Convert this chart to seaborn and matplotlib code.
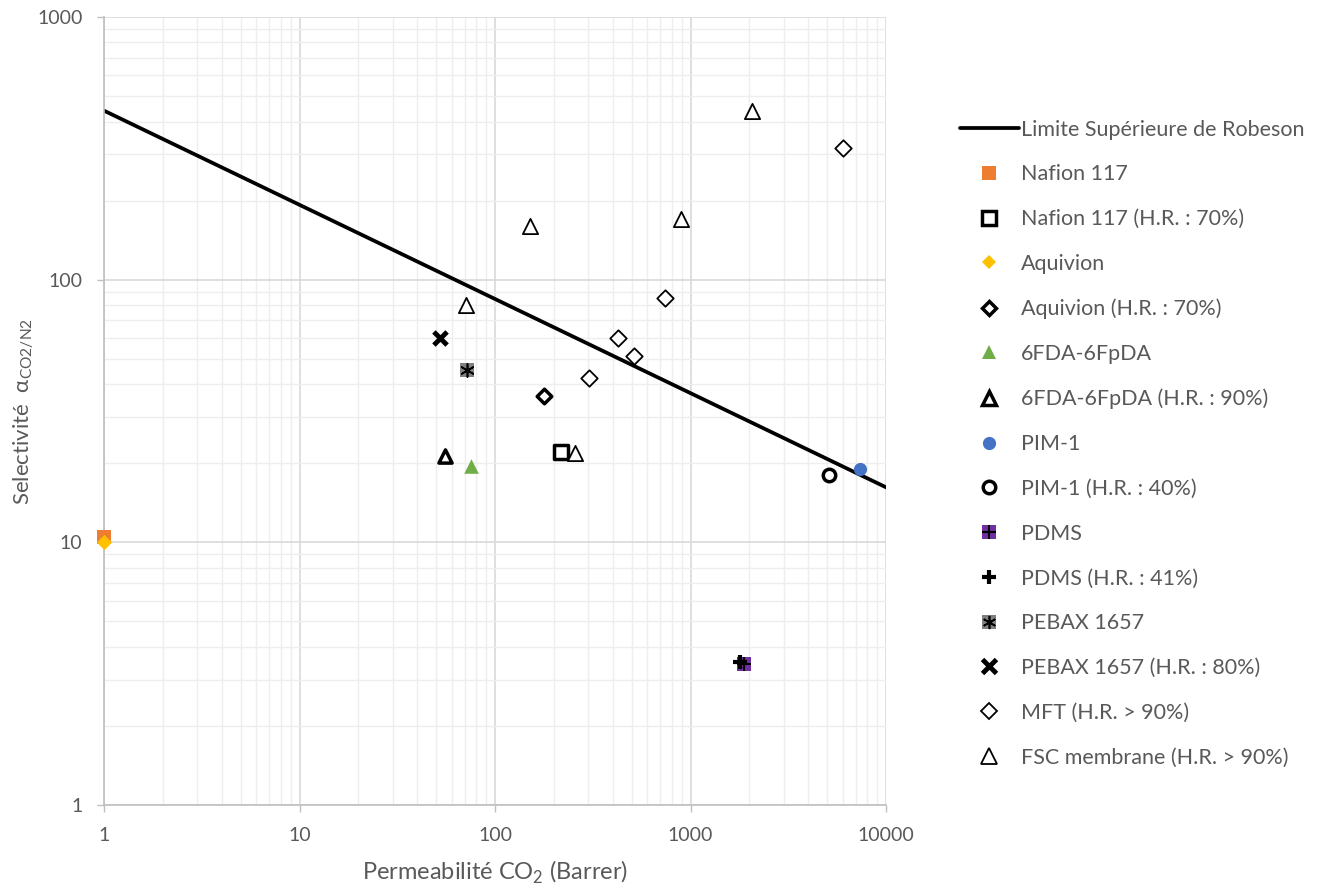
import matplotlib
matplotlib.use("Agg")
import matplotlib.pyplot as plt
from matplotlib.lines import Line2D
from matplotlib.ticker import LogLocator, FuncFormatter, NullFormatter
import seaborn as sns
import pandas as pd

# Data
robeson_x = [1, 10000]
robeson_y = [440, 16.2]

nafion_x, nafion_y = [1], [10.5]
nafion_hr_x, nafion_hr_y = [218], [22]
aquivion_x, aquivion_y = [1], [10.0]
aquivion_hr_x, aquivion_hr_y = [178], [36]
fda_x, fda_y = [75], [19.5]
fda_hr_x, fda_hr_y = [55.5], [21.3]
pim_x, pim_y = [7360], [19]
pim_hr_x, pim_hr_y = [5110], [18]
pdms_x, pdms_y = [1878], [3.44]
pdms_hr_x, pdms_hr_y = [1792], [3.5]
pebax_x, pebax_y = [72], [45.3]
pebax_hr_x, pebax_hr_y = [52.3], [60]
mft_x = [6030, 741, 426, 514, 303]
mft_y = [317, 85, 60, 51.2, 42.2]
fsc_x = [2064, 151, 894, 71, 257]
fsc_y = [440, 160, 170, 80, 21.9]

labels = ["Nafion 117", "Nafion 117 (H.R. : 70%)", "Aquivion", "Aquivion (H.R. : 70%)",
          "6FDA-6FpDA", "6FDA-6FpDA (H.R. : 90%)", "PIM-1", "PIM-1 (H.R. : 40%)",
          "PDMS", "PDMS (H.R. : 41%)", "PEBAX 1657", "PEBAX 1657 (H.R. : 80%)",
          "MFT (H.R. > 90%)", "FSC membrane (H.R. > 90%)"]

sns.set_theme(style="white")
plt.rcParams['font.family'] = ['Lato', 'DejaVu Sans']
TXT = "#595959"

fig = plt.figure(figsize=(13.28, 8.9), dpi=100)
ax = fig.add_axes([104/1328, 1-805/890, 782/1328, 788/890])
ax.set_xscale("log")
ax.set_yscale("log")
ax.set_xlim(1, 10000)
ax.set_ylim(1, 1000)

# grid
ax.xaxis.set_minor_locator(LogLocator(base=10, subs=range(2, 10)))
ax.yaxis.set_minor_locator(LogLocator(base=10, subs=range(2, 10)))
ax.xaxis.set_minor_formatter(NullFormatter())
ax.yaxis.set_minor_formatter(NullFormatter())
ax.grid(which="major", color="#d9d9d9", lw=1.2)
ax.grid(which="minor", color="#eeeeee", lw=1.0)
ax.set_axisbelow(True)

fmt = FuncFormatter(lambda v, _: f"{v:g}")
ax.xaxis.set_major_formatter(fmt)
ax.yaxis.set_major_formatter(fmt)
ax.tick_params(which="major", length=5, width=1, color="#bfbfbf", labelsize=14,
               labelcolor=TXT, direction="out", bottom=True, left=True, pad=10.5)
ax.tick_params(which="minor", length=0)
for s in ["top", "right"]:
    ax.spines[s].set_visible(False)
for s in ["left", "bottom"]:
    ax.spines[s].set_color("#bfbfbf")
    ax.spines[s].set_linewidth(1.2)

# Robeson line
sns.lineplot(x=robeson_x, y=robeson_y, ax=ax, color="black", lw=2.7)

def pts(x, y, **kw):
    sns.scatterplot(x=x, y=y, ax=ax, clip_on=False, zorder=3, legend=False, **kw)

pts(nafion_x, nafion_y, marker="s", s=90, color="#ed7d31", edgecolor="#ed7d31", linewidth=0)
pts(aquivion_x, aquivion_y, marker="D", s=60, color="#ffc000", edgecolor="#ffc000", linewidth=0)
pts(nafion_hr_x, nafion_hr_y, marker="s", s=90, facecolor="white", edgecolor="black", linewidth=2.5)
pts(aquivion_hr_x, aquivion_hr_y, marker="D", s=55, facecolor="white", edgecolor="black", linewidth=2.5)
pts(fda_x, fda_y, marker="^", s=110, color="#70ad47", edgecolor="#70ad47", linewidth=0)
pts(fda_hr_x, fda_hr_y, marker="^", s=90, facecolor="white", edgecolor="black", linewidth=2.5)
pts(pim_x, pim_y, marker="o", s=90, color="#4472c4", edgecolor="#4472c4", linewidth=0)
pts(pim_hr_x, pim_hr_y, marker="o", s=80, facecolor="white", edgecolor="black", linewidth=2.5)
pts(pdms_x, pdms_y, marker="s", s=90, color="#7030a0", edgecolor="#7030a0", linewidth=0)
pts(pdms_x, pdms_y, marker="+", s=90, color="black", linewidth=1.5)
pts(pdms_hr_x, pdms_hr_y, marker="+", s=110, color="black", linewidth=3)
pts(pebax_x, pebax_y, marker="s", s=90, color="#808080", edgecolor="#808080", linewidth=0)
pts(pebax_x, pebax_y, marker=(6, 2, 0), s=90, color="black", linewidth=1.2)
pts(pebax_hr_x, pebax_hr_y, marker="x", s=90, color="black", linewidth=3.5)
pts(mft_x, mft_y, marker="D", s=70, facecolor="white", edgecolor="black", linewidth=1.3)
pts(fsc_x, fsc_y, marker="^", s=120, facecolor="white", edgecolor="black", linewidth=1.3)

ax.set_xlabel(r"Permeabilité CO$_\mathregular{2}$ (Barrer)", fontsize=17, color=TXT, labelpad=11)
ax.set_ylabel(r"Selectivité  α$_\mathregular{CO2/N2}$", fontsize=16, color=TXT, labelpad=1)

# legend
def mk(marker, ms, fc, ec, mew):
    return Line2D([], [], ls="none", marker=marker, markersize=ms,
                  markerfacecolor=fc, markeredgecolor=ec, markeredgewidth=mew)

handles = [
    Line2D([], [], color="black", lw=2.7),
    mk("s", 9.5, "#ed7d31", "#ed7d31", 0),
    mk("s", 9.5, "white", "black", 2.5),
    mk("D", 7.5, "#ffc000", "#ffc000", 0),
    mk("D", 7.5, "white", "black", 2.5),
    mk("^", 10.5, "#70ad47", "#70ad47", 0),
    mk("^", 9.5, "white", "black", 2.5),
    mk("o", 9.5, "#4472c4", "#4472c4", 0),
    mk("o", 9, "white", "black", 2.5),
    (mk("s", 9.5, "#7030a0", "#7030a0", 0), mk("+", 9.5, "black", "black", 1.5)),
    mk("+", 10.5, "black", "black", 3),
    (mk("s", 9.5, "#808080", "#808080", 0), mk((6, 2, 0), 9.5, "black", "black", 1.2)),
    mk("x", 9.5, "black", "black", 3.5),
    mk("D", 8, "white", "black", 1.3),
    mk("^", 11, "white", "black", 1.3),
]
leg = fig.legend(handles, ["Limite Supérieure de Robeson"] + labels,
                 loc="upper left", bbox_to_anchor=(951/1328, 1-111/890),
                 frameon=False, fontsize=15.5, labelspacing=1.15,
                 handlelength=2.75, handletextpad=0.1, borderaxespad=0)
for t in leg.get_texts():
    t.set_color(TXT)

fig.savefig("out.png", dpi=100)
